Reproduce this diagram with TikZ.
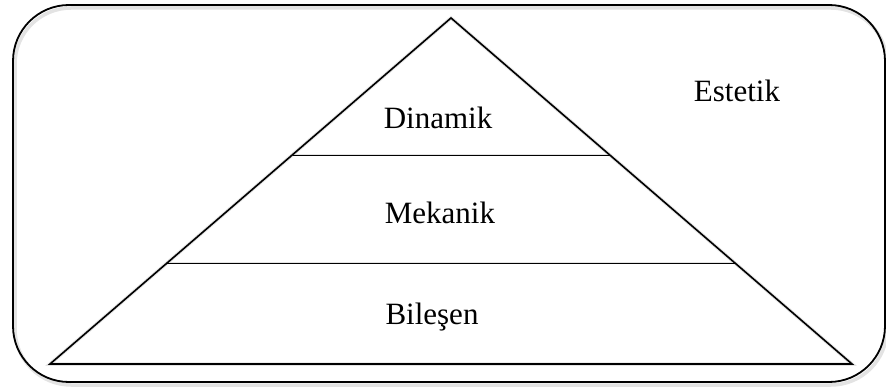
\documentclass[tikz,border=0pt]{standalone}
\usepackage{fontspec}
\setmainfont{Liberation Serif}
\begin{document}
\begin{tikzpicture}[x=1pt,y=-1pt,
  frame/.style={line width=1.8pt, rounded corners=56pt},
  edge/.style={line width=1.6pt, line join=miter},
  divider/.style={line width=0.9pt},
  shade/.style={draw=black!18, line width=3.5pt, opacity=0.6},
  label/.style={anchor=base, inner sep=0pt, font=\fontsize{31}{36}\selectfont}]
  \useasboundingbox (0,0) rectangle (886,387);

  % pyramid corners and level boundaries
  \coordinate (apex) at (451,18);
  \coordinate (bl) at (50,364);
  \coordinate (br) at (852,364);
  \coordinate (d1l) at (293,155);
  \coordinate (d1r) at (610,155);
  \coordinate (d2l) at (167,263);
  \coordinate (d2r) at (735,263);

  % soft drop shadows
  \begin{scope}[shift={(2,3)}]
    \draw[shade, rounded corners=56pt] (13,5) rectangle (885,382);
    \draw[shade] (bl) -- (apex) -- (br) -- cycle;
    \draw[shade, line width=2.5pt] (d1l) -- (d1r);
    \draw[shade, line width=2.5pt] (d2l) -- (d2r);
  \end{scope}

  % outer frame
  \draw[frame] (13,5) rectangle (885,382);

  % pyramid
  \draw[edge] (bl) -- (apex) -- (br) -- cycle;
  \draw[divider] (d1l) -- (d1r);
  \draw[divider] (d2l) -- (d2r);

  % level labels
  \node[label] (dinamik) at (438,129) {Dinamik};
  \node[label] (mekanik) at (440,224) {Mekanik};
  \node[label] (bilesen) at (432,324) {Bileşen};
  \node[label] (estetik) at (737,102) {Estetik};
\end{tikzpicture}
\end{document}
